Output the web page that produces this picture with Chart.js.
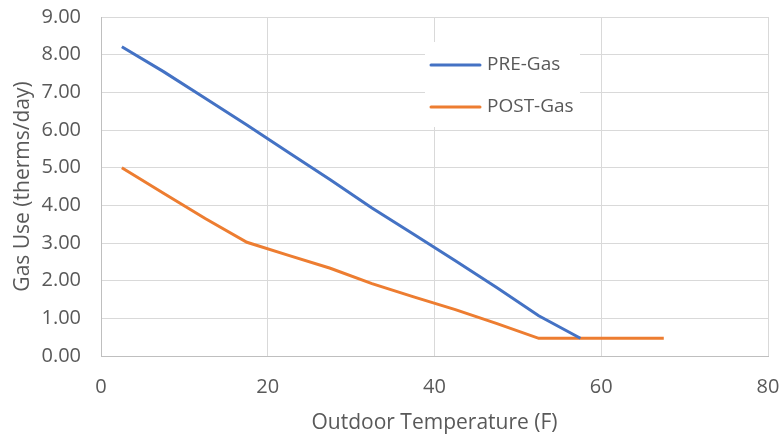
<!DOCTYPE html>
<html>
<head>
<meta charset="utf-8">
<script src="https://cdn.jsdelivr.net/npm/chart.js@4"></script>
<style>
  html, body { margin: 0; padding: 0; background: #fff; }
  #wrap { width: 779px; height: 436px; }
</style>
</head>
<body>
<div id="wrap"><canvas id="gas" width="779" height="436"></canvas></div>
<script>
// outdoor temperature bins (F)
var temps = [2.5, 7.5, 12.5, 17.5, 22.5, 27.5, 32.5, 37.5, 42.5, 47.5, 52.5, 57.5, 62.5, 67.5];
var preGas = [8.21, 7.55, 6.84, 6.13, 5.40, 4.68, 3.93, 3.23, 2.53, 1.81, 1.07, 0.47];
var postGas = [5.00, 4.32, 3.65, 3.02, 2.67, 2.33, 1.92, 1.57, 1.23, 0.86, 0.47, 0.47, 0.47, 0.47];
var seriesNames = ['PRE-Gas', 'POST-Gas'];
var seriesColors = ['#4472C4', '#ED7D31'];

var xTitle = 'Outdoor Temperature (F)';
var yTitle = 'Gas Use (therms/day)';

function toPoints(xs, ys) {
    return ys.map(function (y, i) { return { x: xs[i], y: y }; });
}

var textColor = '#595959';
var fontFamily = '"Open Sans", sans-serif';

// legend sits inside the plot, drawn over a white box
var insideLegend = {
    id: 'insideLegend',
    afterDraw: function (chart) {
        var ctx = chart.ctx;
        ctx.save();
        ctx.fillStyle = '#ffffff';
        ctx.fillRect(425, 42, 155, 85);
        chart.data.datasets.forEach(function (ds, i) {
            var y = 65 + i * 42;
            ctx.strokeStyle = ds.borderColor;
            ctx.lineWidth = 3;
            ctx.lineCap = 'round';
            ctx.beginPath();
            ctx.moveTo(431, y);
            ctx.lineTo(480, y);
            ctx.stroke();
            ctx.fillStyle = textColor;
            ctx.font = '19px ' + fontFamily;
            ctx.textBaseline = 'middle';
            ctx.fillText(ds.label, 487, y);
        });
        ctx.restore();
    }
};

new Chart(document.getElementById('gas'), {
    type: 'scatter',
    data: {
        datasets: [{
            label: seriesNames[0],
            data: toPoints(temps, preGas),
            borderColor: seriesColors[0],
            backgroundColor: seriesColors[0],
            borderWidth: 3,
            showLine: true,
            pointRadius: 0,
            tension: 0
        }, {
            label: seriesNames[1],
            data: toPoints(temps, postGas),
            borderColor: seriesColors[1],
            backgroundColor: seriesColors[1],
            borderWidth: 3,
            showLine: true,
            pointRadius: 0,
            tension: 0
        }]
    },
    options: {
        responsive: false,
        animation: false,
        layout: {
            padding: { top: 17, right: 11, left: 6, bottom: 0 }
        },
        plugins: {
            legend: { display: false },
            tooltip: { enabled: false }
        },
        scales: {
            x: {
                type: 'linear',
                min: 0,
                max: 80,
                ticks: {
                    stepSize: 20,
                    color: textColor,
                    font: { family: fontFamily, size: 20 },
                    padding: 19
                },
                grid: {
                    color: '#d9d9d9',
                    drawTicks: false
                },
                border: { color: '#bfbfbf' },
                title: {
                    display: true,
                    text: xTitle,
                    color: textColor,
                    font: { family: fontFamily, size: 21 },
                    padding: { top: 0, bottom: 0 }
                },
                afterFit: function (scale) {
                    scale.height = 80;
                    scale.paddingLeft = 0;
                    scale.paddingRight = 0;
                }
            },
            y: {
                min: 0,
                max: 9,
                ticks: {
                    stepSize: 1,
                    color: textColor,
                    font: { family: fontFamily, size: 20 },
                    padding: 20,
                    callback: function (v) { return v.toFixed(2); }
                },
                grid: {
                    color: '#d9d9d9',
                    drawTicks: false
                },
                border: { color: '#bfbfbf' },
                title: {
                    display: true,
                    text: yTitle,
                    color: textColor,
                    font: { family: fontFamily, size: 21 },
                    padding: { bottom: 2 }
                },
                afterFit: function (scale) {
                    scale.width = 95;
                    scale.paddingTop = 0;
                    scale.paddingBottom = 0;
                }
            }
        }
    },
    plugins: [insideLegend]
});
</script>
</body>
</html>
